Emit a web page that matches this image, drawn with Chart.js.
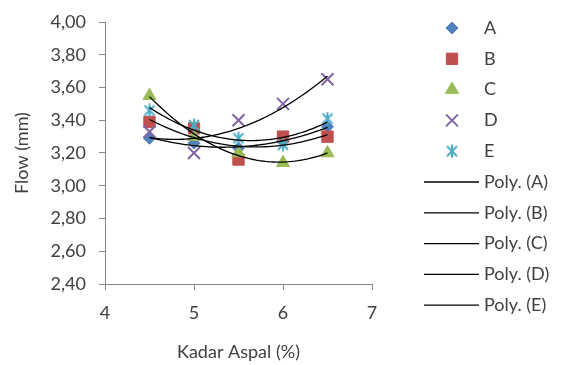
<!DOCTYPE html>
<html>
<head>
<meta charset="utf-8">
<script src="https://cdn.jsdelivr.net/npm/chart.js@4/dist/chart.umd.min.js"></script>
<style>
  html, body { margin: 0; padding: 0; background: #fff; }
</style>
</head>
<body>
<canvas id="myChart" width="565" height="365"></canvas>
<script>
// kadar aspal (%) vs flow (mm), five mixes
var kadar = [4.5, 5, 5.5, 6, 6.5]
var seriesNames = ['A', 'B', 'C', 'D', 'E']
var flowA = [3.29, 3.26, 3.23, 3.27, 3.36]
var flowB = [3.39, 3.35, 3.16, 3.30, 3.30]
var flowC = [3.55, 3.30, 3.20, 3.14, 3.20]
var flowD = [3.33, 3.20, 3.40, 3.50, 3.65]
var flowE = [3.46, 3.37, 3.29, 3.25, 3.41]
var xTicks = [4, 5, 6, 7]
var yMin = 2.4, yMax = 4.0, yStep = 0.2

var flows = [flowA, flowB, flowC, flowD, flowE]
var colors = ['#4F81BD', '#C0504D', '#9BBB59', '#8064A2', '#4BACC6']
var textColor = '#404040'
var axisColor = '#868686'
var fontFamily = 'Lato'
var fontSize = 18

// excel style asterisk marker (x with a vertical bar)
function asterisk(color) {
  var c = document.createElement('canvas')
  c.width = 14; c.height = 14
  var g = c.getContext('2d')
  g.strokeStyle = color
  g.lineWidth = 2
  g.beginPath()
  g.moveTo(2, 2); g.lineTo(12, 12)
  g.moveTo(12, 2); g.lineTo(2, 12)
  g.moveTo(7, 0.5); g.lineTo(7, 13.5)
  g.stroke()
  return c
}

var markers = [
  { style: 'rectRot', radius: 6, width: 1 },
  { style: 'rect', radius: 8, width: 1 },
  { style: 'triangle', radius: 7.5, width: 1 },
  { style: 'crossRot', radius: 8.5, width: 2 },
  { style: asterisk(colors[4]), radius: 7, width: 1 }
]

// 2nd order least squares fit, returns [c0, c1, c2]
function polyFit2(xs, ys) {
  var S = [0, 0, 0, 0, 0], T = [0, 0, 0]
  for (var i = 0; i < xs.length; i++) {
    var p = 1
    for (var k = 0; k < 5; k++) {
      S[k] += p
      if (k < 3) T[k] += p * ys[i]
      p *= xs[i]
    }
  }
  var m = [
    [S[0], S[1], S[2], T[0]],
    [S[1], S[2], S[3], T[1]],
    [S[2], S[3], S[4], T[2]]
  ]
  for (var c = 0; c < 3; c++) {
    for (var r = c + 1; r < 3; r++) {
      var f = m[r][c] / m[c][c]
      for (var j = c; j < 4; j++) m[r][j] -= f * m[c][j]
    }
  }
  var res = [0, 0, 0]
  for (var r2 = 2; r2 >= 0; r2--) {
    var s = m[r2][3]
    for (var j2 = r2 + 1; j2 < 3; j2++) s -= m[r2][j2] * res[j2]
    res[r2] = s / m[r2][r2]
  }
  return res
}

function trendPoints(ys) {
  var c = polyFit2(kadar, ys)
  var x0 = kadar[0], x1 = kadar[kadar.length - 1]
  var pts = []
  for (var i = 0; i <= 60; i++) {
    var x = x0 + (x1 - x0) * i / 60
    pts.push({ x: x, y: c[0] + c[1] * x + c[2] * x * x })
  }
  return pts
}

var datasets = []
seriesNames.forEach(function (name, i) {
  datasets.push({
    label: name,
    data: kadar.map(function (x, j) { return { x: x, y: flows[i][j] } }),
    showLine: false,
    pointStyle: markers[i].style,
    pointRadius: markers[i].radius,
    pointHoverRadius: markers[i].radius,
    pointBorderWidth: markers[i].width,
    backgroundColor: colors[i],
    borderColor: colors[i],
    order: 5 - i
  })
})
seriesNames.forEach(function (name, i) {
  datasets.push({
    label: 'Poly. (' + name + ')',
    data: trendPoints(flows[i]),
    showLine: true,
    pointRadius: 0,
    borderColor: '#000000',
    borderWidth: 1.3,
    tension: 0,
    trend: true,
    order: 0
  })
})

// legend down the right side, markers first then trendlines
var sideLegend = {
  id: 'sideLegend',
  afterDraw: function (chart) {
    var ctx = chart.ctx
    ctx.save()
    ctx.font = fontSize + 'px ' + fontFamily
    ctx.textBaseline = 'middle'
    chart.data.datasets.forEach(function (ds, i) {
      var y = 28 + i * 30.8
      if (ds.trend) {
        ctx.strokeStyle = ds.borderColor
        ctx.lineWidth = ds.borderWidth
        ctx.beginPath()
        ctx.moveTo(424, y)
        ctx.lineTo(479, y)
        ctx.stroke()
      } else {
        ctx.fillStyle = ds.backgroundColor
        ctx.strokeStyle = ds.borderColor
        ctx.lineWidth = ds.pointBorderWidth
        Chart.helpers.drawPoint(ctx, {
          pointStyle: ds.pointStyle,
          radius: ds.pointRadius,
          rotation: 0,
          borderWidth: ds.pointBorderWidth
        }, 452, y)
      }
      ctx.fillStyle = textColor
      ctx.fillText(ds.label, 484, y)
    })
    ctx.restore()
  }
}

var myChart = document.getElementById('myChart').getContext('2d')

var chart = new Chart(myChart, {
  type: 'scatter',
  data: { datasets: datasets },
  plugins: [sideLegend],
  options: {
    responsive: false,
    animation: false,
    layout: { padding: { top: 18, right: 193, left: 0, bottom: 0 } },
    plugins: {
      legend: { display: false },
      tooltip: { enabled: false }
    },
    scales: {
      x: {
        type: 'linear',
        min: xTicks[0],
        max: xTicks[xTicks.length - 1],
        afterBuildTicks: function (scale) {
          scale.ticks = xTicks.map(function (v) { return { value: v } })
        },
        afterFit: function (scale) { scale.height = 81 },
        grid: { drawOnChartArea: false, drawTicks: true, tickLength: 6, color: axisColor },
        border: { display: true, color: axisColor, width: 1 },
        ticks: {
          padding: 12,
          color: textColor,
          font: { family: fontFamily, size: fontSize }
        },
        title: {
          display: true,
          text: 'Kadar Aspal (%)',
          color: textColor,
          font: { family: fontFamily, size: fontSize },
          padding: { top: 0, bottom: 2 }
        }
      },
      y: {
        min: yMin,
        max: yMax,
        afterFit: function (scale) { scale.width = 105 },
        grid: { drawOnChartArea: false, drawTicks: true, tickLength: 6, color: axisColor },
        border: { display: true, color: axisColor, width: 1 },
        ticks: {
          stepSize: yStep,
          padding: 13,
          color: textColor,
          font: { family: fontFamily, size: fontSize, lineHeight: 1 },
          callback: function (v) { return v.toFixed(2).replace('.', ',') }
        },
        title: {
          display: true,
          text: 'Flow (mm)',
          color: textColor,
          font: { family: fontFamily, size: fontSize },
          padding: { top: 11, bottom: 0 }
        }
      }
    }
  }
})
</script>
</body>
</html>
